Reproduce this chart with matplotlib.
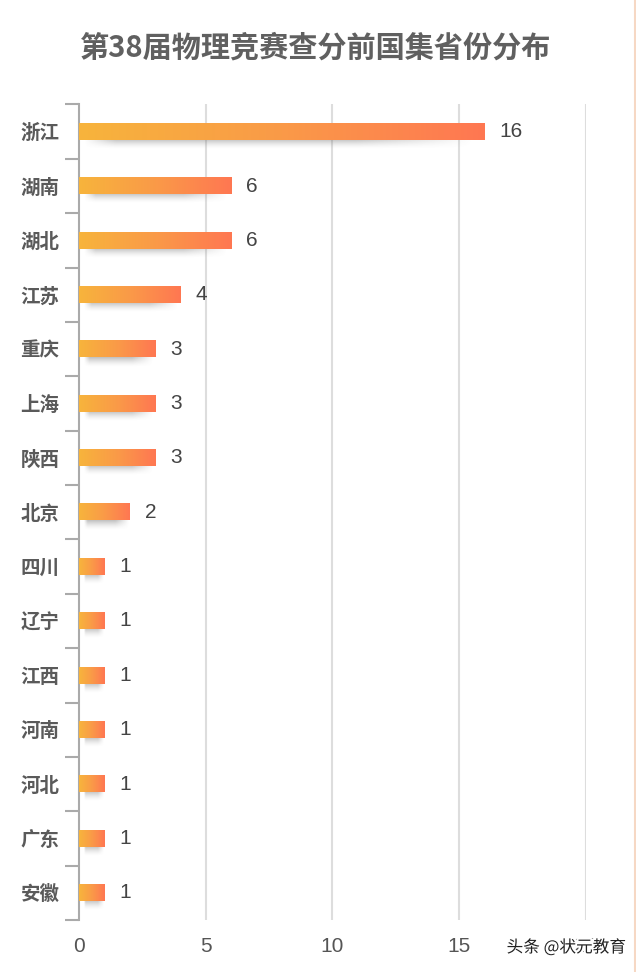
import numpy as np
import matplotlib
matplotlib.use("Agg")
import matplotlib.pyplot as plt
from matplotlib.colors import LinearSegmentedColormap
from matplotlib.lines import Line2D
import matplotlib.patheffects as pe

plt.rcParams['font.family'] = ['Liberation Sans', 'Noto Sans CJK SC', 'DejaVu Sans']

# 数据
provinces = ['浙江', '湖南', '湖北', '江苏', '重庆', '上海', '陕西', '北京',
             '四川', '辽宁', '江西', '河南', '河北', '广东', '安徽']
counts = [16, 6, 6, 4, 3, 3, 3, 2, 1, 1, 1, 1, 1, 1, 1]
xticks = [0, 5, 10, 15, 20]
title = '第38届物理竞赛查分前国集省份分布'

fig = plt.figure(figsize=(6.36, 9.72), dpi=100)
ax = fig.add_axes([0.124, 0.0535, 0.797, 0.839])

bar_h = 0.3
cmap = LinearSegmentedColormap.from_list('bar', ['#F7B43C', '#FA9A48', '#FF7752'])
grad = np.linspace(0, 1, 256).reshape(1, -1)

ys = np.arange(len(provinces))
for y, v in zip(ys, counts):
    # 阴影
    sh = np.zeros((40, 256, 4))
    sh[..., :3] = 0.45
    vy = np.linspace(1, 0, 40)[:, None] ** 1.5
    hx = np.linspace(0, 1, 256)[None, :]
    hfade = np.clip(np.minimum(hx / 0.08, (1 - hx) / 0.3), 0, 1)
    sh[..., 3] = 0.45 * vy * hfade
    ax.imshow(sh, extent=(0.2, v * 0.97, y + bar_h / 2 + 0.17, y + bar_h / 2 - 0.01),
              aspect='auto', zorder=2, interpolation='bilinear')
    # 渐变柱
    ax.imshow(grad, extent=(0, v, y + bar_h / 2, y - bar_h / 2), cmap=cmap,
              aspect='auto', zorder=3, interpolation='bilinear')
    ax.text(v + 0.6, y, str(v), va='center', ha='left', fontsize=15,
            color='#444444', zorder=4)

ax.set_xlim(0, 20)
ax.set_ylim(len(provinces) - 0.5, -0.5)
ax.set_xticks(xticks)
ax.set_xticklabels([str(t) for t in xticks], fontsize=15, color='#555555')
ax.tick_params(axis='x', length=0, pad=12)
ax.set_yticks(ys)
ax.set_yticklabels(provinces, fontsize=14, color='#5A5A5A',
                   family=['Noto Sans CJK SC'], weight='bold')
ax.set_yticks(np.arange(-0.5, len(provinces)), minor=True)
ax.tick_params(axis='y', which='major', length=0, pad=14)
ax.tick_params(axis='y', which='minor', length=10, width=1.5, color='#AAAAAA')

for t in xticks[1:]:
    ax.axvline(t, color='#DDDDDD', lw=1.5, zorder=1)

for s in ['top', 'right', 'bottom']:
    ax.spines[s].set_visible(False)
ax.spines['left'].set_color('#AAAAAA')
ax.spines['left'].set_linewidth(1.5)

fig.text(0.497, 0.951, title, ha='center', va='center', fontsize=21,
         color='#606060', family=['Noto Sans CJK SC'], weight='bold')

# 水印
fig.text(0.984, 0.025, '头条 @状元教育', ha='right', va='center', fontsize=12,
         color='#222222', zorder=10, family=['Noto Sans CJK SC'],
         path_effects=[pe.withStroke(linewidth=3, foreground='white')])

fig.add_artist(Line2D([0.9985, 0.9985], [0, 1], transform=fig.transFigure,
                      color='#F6D8C4', lw=1.5))

fig.savefig('out.png', dpi=100)
